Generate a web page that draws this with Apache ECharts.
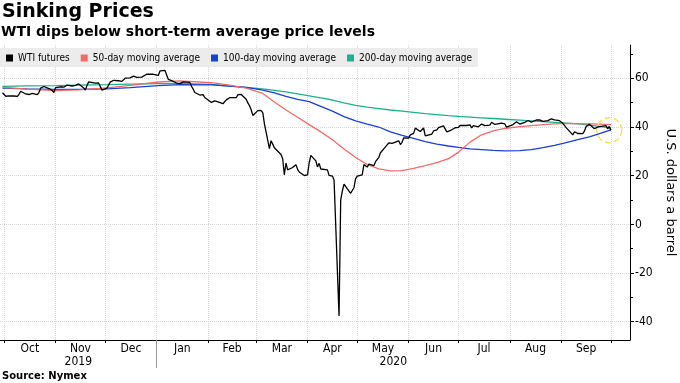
<!DOCTYPE html>
<html><head><meta charset="utf-8">
<script src="https://cdn.jsdelivr.net/npm/echarts@6/dist/echarts.min.js"></script>
<style>html,body{margin:0;padding:0;background:#fff}#c{width:680px;height:383px}</style>
</head><body><div id="c"></div>
<script>
// ---------- data ----------
const titleText = 'Sinking Prices';
const subtitleText = 'WTI dips below short-term average price levels';
const sourceText = 'Source: Nymex';
const yAxisName = 'U.S. dollars a barrel';
const seriesNames = ['WTI futures', '50-day moving average', '100-day moving average', '200-day moving average'];
const seriesColors = ['#000000', '#f26b6b', '#1b3fd6', '#1bb38e'];
const monthLabels = ['Jan','Feb','Mar','Apr','May','Jun','Jul','Aug','Sep','Oct','Nov','Dec'];
const yMajorTicks = [-40, -20, 0, 20, 40, 60];
const yMinorTicks = [-30, -10, 10, 30, 50, 70];
const yMin = -47.5, yMax = 73.7;
const xMinDate = '2019-09-28T12:00:00', xMaxDate = '2020-10-12T12:00:00';
const monthStarts = ['2019-10-01','2019-11-01','2019-12-01','2020-01-01','2020-02-01','2020-03-01','2020-04-01','2020-05-01','2020-06-01','2020-07-01','2020-08-01','2020-09-01','2020-10-01'];
const yearBoundary = '2020-01-01';

const wtiDates = [
'2019-09-30',
'2019-10-01','2019-10-02','2019-10-03','2019-10-04','2019-10-07','2019-10-08','2019-10-09','2019-10-10','2019-10-11','2019-10-14','2019-10-15','2019-10-16','2019-10-17','2019-10-18','2019-10-21','2019-10-22','2019-10-23','2019-10-24','2019-10-25','2019-10-28','2019-10-29','2019-10-30','2019-10-31',
'2019-11-01','2019-11-04','2019-11-05','2019-11-06','2019-11-07','2019-11-08','2019-11-11','2019-11-12','2019-11-13','2019-11-14','2019-11-15','2019-11-18','2019-11-19','2019-11-20','2019-11-21','2019-11-22','2019-11-25','2019-11-26','2019-11-27','2019-11-29',
'2019-12-02','2019-12-03','2019-12-04','2019-12-05','2019-12-06','2019-12-09','2019-12-10','2019-12-11','2019-12-12','2019-12-13','2019-12-16','2019-12-17','2019-12-18','2019-12-19','2019-12-20','2019-12-23','2019-12-24','2019-12-26','2019-12-27','2019-12-30','2019-12-31',
'2020-01-02','2020-01-03','2020-01-06','2020-01-07','2020-01-08','2020-01-09','2020-01-10','2020-01-13','2020-01-14','2020-01-15','2020-01-16','2020-01-17','2020-01-21','2020-01-22','2020-01-23','2020-01-24','2020-01-27','2020-01-28','2020-01-29','2020-01-30','2020-01-31',
'2020-02-03','2020-02-04','2020-02-05','2020-02-06','2020-02-07','2020-02-10','2020-02-11','2020-02-12','2020-02-13','2020-02-14','2020-02-18','2020-02-19','2020-02-20','2020-02-21','2020-02-24','2020-02-25','2020-02-26','2020-02-27','2020-02-28',
'2020-03-02','2020-03-03','2020-03-04','2020-03-05','2020-03-06','2020-03-09','2020-03-10','2020-03-11','2020-03-12','2020-03-13','2020-03-16','2020-03-17','2020-03-18','2020-03-19','2020-03-20','2020-03-23','2020-03-24','2020-03-25','2020-03-26','2020-03-27','2020-03-30','2020-03-31',
'2020-04-01','2020-04-02','2020-04-03','2020-04-06','2020-04-07','2020-04-08','2020-04-09','2020-04-13','2020-04-14','2020-04-15','2020-04-16','2020-04-17','2020-04-20','2020-04-21','2020-04-22','2020-04-23','2020-04-24','2020-04-27','2020-04-28','2020-04-29','2020-04-30',
'2020-05-01','2020-05-04','2020-05-05','2020-05-06','2020-05-07','2020-05-08','2020-05-11','2020-05-12','2020-05-13','2020-05-14','2020-05-15','2020-05-18','2020-05-19','2020-05-20','2020-05-21','2020-05-22','2020-05-26','2020-05-27','2020-05-28','2020-05-29',
'2020-06-01','2020-06-02','2020-06-03','2020-06-04','2020-06-05','2020-06-08','2020-06-09','2020-06-10','2020-06-11','2020-06-12','2020-06-15','2020-06-16','2020-06-17','2020-06-18','2020-06-19','2020-06-22','2020-06-23','2020-06-24','2020-06-25','2020-06-26','2020-06-29','2020-06-30',
'2020-07-01','2020-07-02','2020-07-06','2020-07-07','2020-07-08','2020-07-09','2020-07-10','2020-07-13','2020-07-14','2020-07-15','2020-07-16','2020-07-17','2020-07-20','2020-07-21','2020-07-22','2020-07-23','2020-07-24','2020-07-27','2020-07-28','2020-07-29','2020-07-30','2020-07-31',
'2020-08-03','2020-08-04','2020-08-05','2020-08-06','2020-08-07','2020-08-10','2020-08-11','2020-08-12','2020-08-13','2020-08-14','2020-08-17','2020-08-18','2020-08-19','2020-08-20','2020-08-21','2020-08-24','2020-08-25','2020-08-26','2020-08-27','2020-08-28','2020-08-31',
'2020-09-01','2020-09-02','2020-09-03','2020-09-04','2020-09-08','2020-09-09','2020-09-10','2020-09-11','2020-09-14','2020-09-15','2020-09-16','2020-09-17','2020-09-18','2020-09-21','2020-09-22','2020-09-23','2020-09-24','2020-09-25','2020-09-28','2020-09-29','2020-09-30',
'2020-10-01'
];
const wtiValues = [
54.07,
53.62,52.64,52.45,52.81,52.75,52.63,52.59,53.55,54.70,53.59,52.81,53.36,53.93,53.78,53.31,54.16,55.97,56.23,56.66,55.81,55.54,55.06,54.18,
56.20,56.54,57.23,56.35,57.15,57.24,56.86,56.80,57.12,56.77,57.72,56.05,55.21,57.11,58.58,57.77,58.01,58.41,58.11,55.17,
55.96,56.10,58.43,58.43,59.20,59.02,59.24,58.76,59.18,60.07,60.21,60.94,60.93,61.22,60.44,60.52,61.11,61.68,61.72,61.68,61.06,
61.18,63.05,63.27,62.70,59.61,59.56,59.04,58.08,58.23,57.81,58.52,58.54,58.34,56.74,55.59,54.19,53.14,53.48,53.33,52.14,51.56,
50.11,49.61,50.75,50.95,50.32,49.57,49.94,51.17,51.42,52.05,52.05,53.29,53.78,53.38,51.43,49.90,48.73,47.09,44.76,
46.75,47.18,46.78,45.90,41.28,31.13,34.36,32.98,31.50,31.73,28.70,26.95,20.37,25.22,22.43,23.36,24.01,24.49,22.60,21.51,20.09,20.48,
20.31,25.32,28.34,26.08,23.63,25.09,22.76,22.41,20.11,19.87,19.87,18.27,-37.63,10.01,13.78,16.50,16.94,12.78,12.34,15.06,18.84,
19.78,20.39,24.56,23.99,23.55,24.74,24.14,25.78,25.29,27.56,29.43,31.82,32.50,33.49,33.92,33.25,34.35,32.81,33.71,35.49,
35.44,36.81,37.29,37.41,39.55,38.19,38.94,39.60,36.34,36.26,37.12,38.38,37.96,38.84,39.75,40.46,40.37,38.01,38.72,38.49,39.70,39.27,
39.82,40.65,40.63,40.62,40.90,39.62,40.55,40.10,40.29,41.20,40.75,40.59,40.81,41.96,41.90,41.07,41.29,41.60,41.04,41.27,39.92,40.27,
41.01,41.70,42.19,41.95,41.22,41.94,41.61,42.67,42.24,42.01,42.89,42.89,42.93,42.82,42.34,42.62,43.35,43.39,43.04,42.97,42.61,
42.76,41.51,41.37,39.77,36.76,38.05,37.30,37.33,37.26,38.28,40.16,40.97,41.11,39.31,39.80,39.93,40.31,40.25,40.60,39.29,40.22,
38.72
];

const maDates = ['2019-09-30','2019-10-15','2019-11-01','2019-11-15','2019-12-02','2019-12-16','2020-01-02','2020-01-15','2020-02-03','2020-02-14','2020-02-24','2020-03-05','2020-03-12','2020-03-19','2020-03-26','2020-04-02','2020-04-09','2020-04-16','2020-04-23','2020-04-30','2020-05-07','2020-05-14','2020-05-21','2020-05-28','2020-06-04','2020-06-11','2020-06-18','2020-06-25','2020-07-01','2020-07-08','2020-07-15','2020-07-22','2020-07-29','2020-08-07','2020-08-14','2020-08-21','2020-08-28','2020-09-04','2020-09-11','2020-09-18','2020-09-25','2020-10-01'];
const ma50Values = [56.3,55.6,55.0,55.3,56.1,57.1,58.5,59.0,58.2,57.2,56.0,53.8,50.3,47.0,44.0,41.0,38.0,34.8,31.0,27.5,24.6,22.8,22.0,22.1,23.0,24.1,25.4,27.0,29.6,33.8,36.8,38.4,39.4,40.2,40.6,41.0,41.3,41.5,41.4,41.3,41.2,41.0];
const ma100Values = [56.0,55.7,55.5,55.5,55.7,56.2,57.0,57.4,57.3,56.8,56.3,55.2,54.0,52.6,51.4,50.4,48.5,46.5,44.3,42.5,41.2,40.0,38.0,36.6,35.3,34.0,33.0,32.2,31.6,31.0,30.7,30.4,30.2,30.3,30.7,31.5,32.5,33.6,34.8,36.0,37.5,38.8];
const ma200Values = [56.7,56.9,57.0,57.2,57.4,57.6,57.8,57.9,57.5,56.8,56.3,55.7,55.1,54.4,53.6,52.8,52.0,51.1,49.9,48.9,48.2,47.6,47.0,46.5,46.0,45.5,45.1,44.7,44.4,44.1,43.8,43.5,43.2,42.8,42.5,42.2,41.9,41.6,41.3,40.8,40.2,39.6];
const highlightDate = '2020-09-30', highlightValue = 38.7;

// ---------- chart ----------
const COND = "'DejaVu Sans Condensed', 'DejaVu Sans', sans-serif";
const ts = s => Date.parse(s.length > 10 ? s + 'Z' : s + 'T00:00:00Z');
const tMin = ts(xMinDate), tMax = ts(xMaxDate);
const monthStartTs = monthStarts.map(ts);
const monthMidTs = monthStarts.slice(0, -1).map((s, i) => (ts(s) + ts(monthStarts[i + 1])) / 2);
const yb = ts(yearBoundary);
const yearMidTs = [(tMin + yb) / 2, (yb + tMax) / 2];

const pairs = (d, v) => d.map((x, i) => [ts(x), v[i]]);
const chart = echarts.init(document.getElementById('c'), null, {renderer: 'canvas'});
const lineSeries = (name, data, color, z) => ({
  name, type: 'line', data, showSymbol: false, symbol: 'none', z,
  lineStyle: {width: 1.3, color}, itemStyle: {color}, animation: false
});
const wti = lineSeries(seriesNames[0], pairs(wtiDates, wtiValues), seriesColors[0], 5);
wti.markPoint = {
  symbol: 'circle', symbolSize: 25, silent: true, label: {show: false}, animation: false,
  itemStyle: {color: 'rgba(0,0,0,0)', borderColor: '#f3e45a', borderWidth: 1.5, borderType: 'dashed'},
  data: [{coord: [ts(highlightDate), highlightValue]}]
};
chart.setOption({
  animation: false,
  backgroundColor: '#fff',
  graphic: [
    {type: 'text', left: 2, top: 3, style: {text: titleText, font: "bold 19px 'DejaVu Sans'", fill: '#000'}},
    {type: 'text', left: 1, top: 25, style: {text: subtitleText, font: "bold 14px 'DejaVu Sans'", fill: '#000'}},
    {type: 'text', left: 2, top: 371, style: {text: sourceText, font: "bold 10px 'DejaVu Sans'", fill: '#000'}}
  ],
  legend: {
    left: 0, top: 48, padding: [5, 6, 4, 6], backgroundColor: '#ececec', borderRadius: 0,
    itemWidth: 7, itemHeight: 7, itemGap: 11, icon: 'rect', selectedMode: false,
    textStyle: {fontFamily: COND, fontSize: 10, color: '#000'},
    data: seriesNames
  },
  grid: {left: 0, right: 50, top: 45, bottom: 43, containLabel: false, outerBoundsMode: 'none'},
  xAxis: [{
    type: 'value', min: tMin, max: tMax, scale: true,
    axisLine: {onZero: false, lineStyle: {color: '#000', width: 1}},
    axisTick: {show: true, customValues: monthStartTs, length: 3, lineStyle: {color: '#000'}},
    axisLabel: {customValues: monthMidTs, formatter: v => monthLabels[new Date(v).getUTCMonth()], margin: 3,
      fontFamily: COND, fontSize: 12, color: '#000', hideOverlap: false},
    splitLine: {show: true, lineStyle: {color: '#d6d6d6', type: 'dotted', width: 1}}
  }, {
    type: 'value', min: tMin, max: tMax, scale: true, position: 'bottom',
    axisLine: {show: false, onZero: false},
    axisTick: {show: true, customValues: [yb], length: 28, lineStyle: {color: '#999'}},
    axisLabel: {customValues: yearMidTs, formatter: v => String(new Date(v).getUTCFullYear()), margin: 16,
      fontFamily: COND, fontSize: 12, color: '#000', hideOverlap: false},
    splitLine: {show: false}
  }],
  yAxis: [{
    type: 'value', position: 'right', min: yMin, max: yMax,
    axisLine: {show: true, onZero: false, lineStyle: {color: '#000'}},
    axisTick: {show: true, customValues: yMajorTicks, length: 4, lineStyle: {color: '#000'}},
    axisLabel: {customValues: yMajorTicks, margin: 5, fontFamily: COND, fontSize: 12, color: '#000'},
    splitLine: {show: true, lineStyle: {color: '#d6d6d6', type: 'dotted', width: 1}},
    name: yAxisName, nameLocation: 'middle', nameRotate: -90, nameGap: 34,
    nameTextStyle: {fontFamily: "'DejaVu Sans'", fontSize: 13, color: '#000'}
  }, {
    type: 'value', position: 'right', min: yMin, max: yMax,
    axisLine: {show: false, onZero: false},
    axisTick: {show: true, customValues: yMinorTicks, length: 3, lineStyle: {color: '#000'}},
    axisLabel: {show: false}, splitLine: {show: false}
  }],
  series: [
    lineSeries(seriesNames[3], pairs(maDates, ma200Values), seriesColors[3], 2),
    lineSeries(seriesNames[2], pairs(maDates, ma100Values), seriesColors[2], 3),
    lineSeries(seriesNames[1], pairs(maDates, ma50Values), seriesColors[1], 4),
    wti
  ]
});
</script></body></html>
